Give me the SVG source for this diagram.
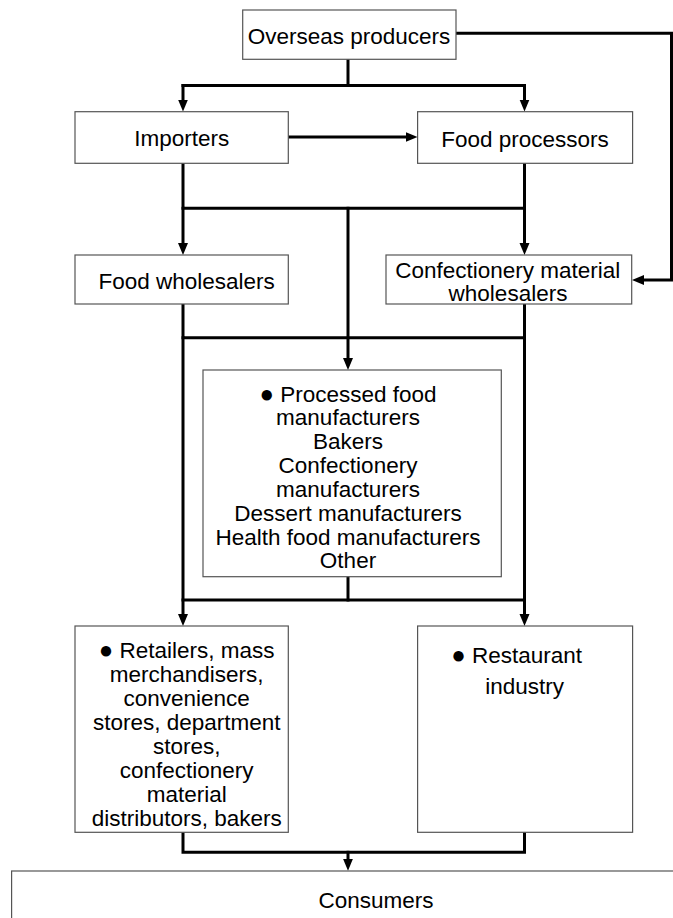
<svg xmlns="http://www.w3.org/2000/svg" width="673" height="918" viewBox="0 0 673 918">
  <style>
    .box { fill: #ffffff; stroke: #555555; stroke-width: 1.2; }
    .t { font-family: "Liberation Sans", Arial, sans-serif; font-size: 22.5px; fill: #000000; text-anchor: middle; }
    .b { font-size: 24px; }
    .c { fill: none; stroke: #000000; stroke-width: 3; stroke-linecap: square; stroke-linejoin: miter; }
    .a { marker-end: url(#arr); }
  </style>
  <defs>
    <marker id="arr" markerUnits="userSpaceOnUse" markerWidth="13" markerHeight="11" refX="4" refY="5" orient="auto">
      <path d="M0,0 L12,5 L0,10 z" fill="#000000"/>
    </marker>
  </defs>
  <rect width="673" height="918" fill="#ffffff"/>

  <g id="connectors">
    <path class="c a" d="M456,33.3 H671.5 V280 H640"/>
    <path class="c" d="M348,59 V85.5"/>
    <path class="c" d="M183,85.5 H524.5"/>
    <path class="c a" d="M183,85.5 V103.5"/>
    <path class="c a" d="M524.5,85.5 V103.5"/>
    <path class="c a" d="M288,137 H409.5"/>
    <path class="c" d="M183,163.5 V208.3 H524.5 V163.5"/>
    <path class="c a" d="M183,208.3 V247"/>
    <path class="c a" d="M524.5,208.3 V247"/>
    <path class="c a" d="M348,208.3 V362"/>
    <path class="c" d="M183,304 V337.7 H524.5 V304"/>
    <path class="c a" d="M183,337.7 V618"/>
    <path class="c a" d="M524.5,337.7 V618"/>
    <path class="c" d="M348,576.7 V600"/>
    <path class="c" d="M183,600 H524.5"/>
    <path class="c" d="M183,832 V852.3 H524.5 V832"/>
    <path class="c a" d="M348,852.3 V862.7"/>
  </g>

  <g id="overseas">
    <rect class="box" x="242.7" y="10" width="213.3" height="49.3"/>
    <text class="t" x="349" y="43.5">Overseas producers</text>
  </g>

  <g id="importers">
    <rect class="box" x="75" y="111.7" width="213.3" height="51.6"/>
    <text class="t" x="181.7" y="146">Importers</text>
  </g>

  <g id="food-processors">
    <rect class="box" x="417.6" y="111.7" width="215" height="51.6"/>
    <text class="t" x="525" y="146.5">Food processors</text>
  </g>

  <g id="food-wholesalers">
    <rect class="box" x="75" y="255" width="213.3" height="49"/>
    <text class="t" x="186.7" y="289">Food wholesalers</text>
  </g>

  <g id="confectionery-wholesalers">
    <rect class="box" x="386" y="255" width="245.7" height="49"/>
    <text class="t" x="507.8" y="278.3">Confectionery material</text>
    <text class="t" x="508" y="301">wholesalers</text>
  </g>

  <g id="manufacturers">
    <rect class="box" x="203" y="370" width="298.3" height="206.7"/>
    <text class="t" x="348" y="401.7"><tspan class="b">●</tspan> Processed food</text>
    <text class="t" x="348" y="425.3">manufacturers</text>
    <text class="t" x="348" y="449.2">Bakers</text>
    <text class="t" x="348" y="473.3">Confectionery</text>
    <text class="t" x="348" y="496.8">manufacturers</text>
    <text class="t" x="348" y="520.7">Dessert manufacturers</text>
    <text class="t" x="348" y="545">Health food manufacturers</text>
    <text class="t" x="348" y="568.3">Other</text>
  </g>

  <g id="retailers">
    <rect class="box" x="75" y="626" width="213.3" height="206.3"/>
    <text class="t" x="186.7" y="658.3"><tspan class="b">●</tspan> Retailers, mass</text>
    <text class="t" x="186.7" y="681.8">merchandisers,</text>
    <text class="t" x="186.7" y="706">convenience</text>
    <text class="t" x="186.7" y="730">stores, department</text>
    <text class="t" x="186.7" y="754">stores,</text>
    <text class="t" x="186.7" y="778.3">confectionery</text>
    <text class="t" x="186.7" y="801.7">material</text>
    <text class="t" x="186.7" y="826">distributors, bakers</text>
  </g>

  <g id="restaurant">
    <rect class="box" x="417.6" y="626" width="215" height="206.3"/>
    <text class="t" x="516.7" y="663.3"><tspan class="b">●</tspan> Restaurant</text>
    <text class="t" x="524.7" y="694">industry</text>
  </g>

  <g id="consumers">
    <rect class="box" x="11.6" y="871" width="700" height="80"/>
    <text class="t" x="376" y="908.3">Consumers</text>
  </g>
</svg>
